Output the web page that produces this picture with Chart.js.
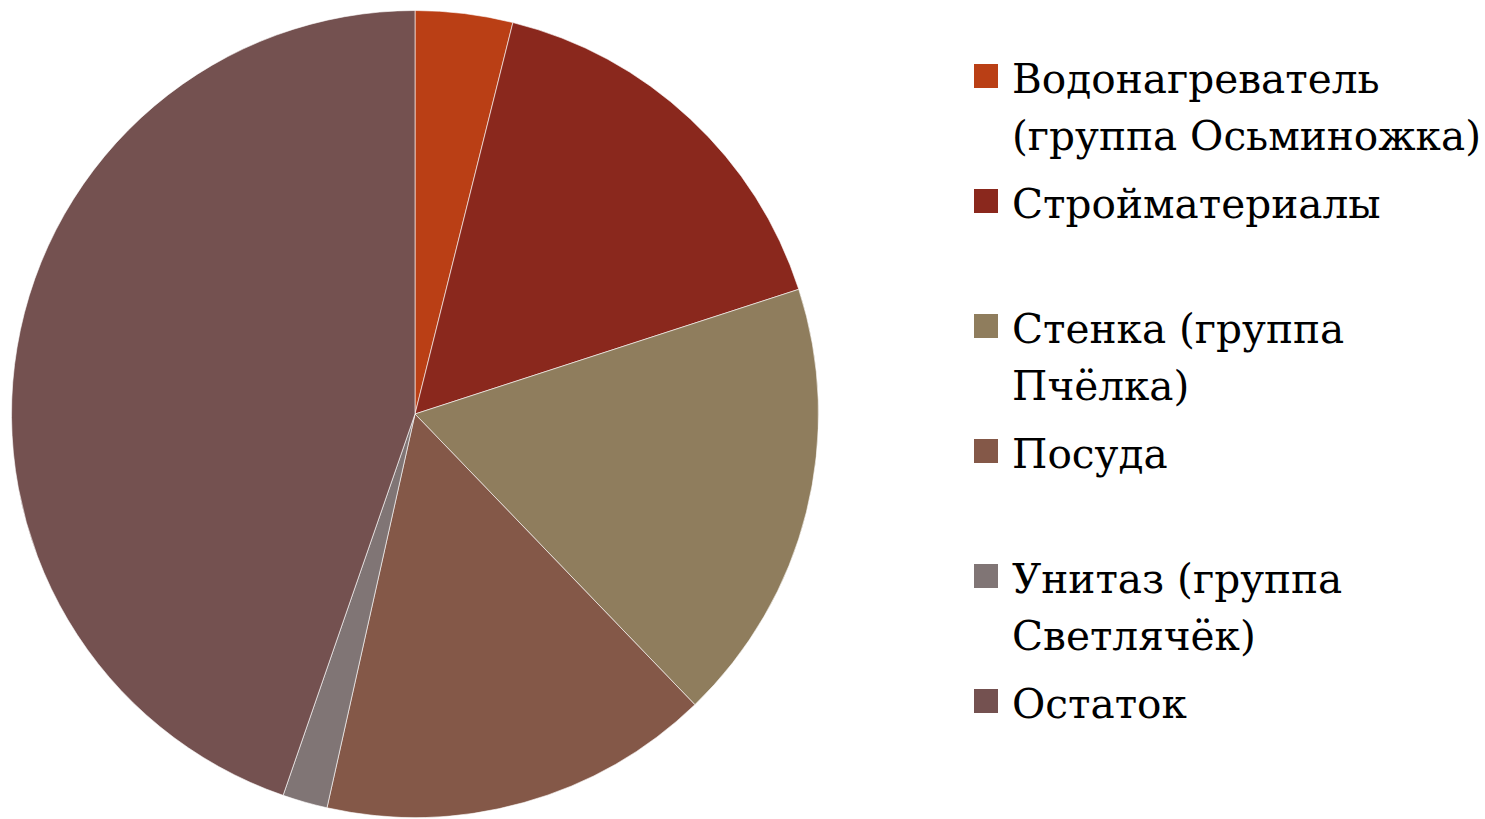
<!DOCTYPE html>
<html>
<head>
<meta charset="utf-8">
<script src="https://cdn.jsdelivr.net/npm/chart.js@4"></script>
<style>
  body { margin: 0; background: #fff; width: 1485px; height: 819px; overflow: hidden; position: relative; }
  #pieBox { position: absolute; left: 0; top: 10px; width: 830px; height: 808px; }
  #legend { position: absolute; left: 0; top: 0; }
  .item { position: absolute; left: 974px; }
  .swatch { position: absolute; left: 0; top: 13px; width: 24px; height: 24px; }
  .label { position: absolute; left: 38px; top: 0; white-space: nowrap;
           font-family: 'DejaVu Serif', serif; font-size: 40.6px; line-height: 57px; color: #000; }
</style>
</head>
<body>
<div id="pieBox"><canvas id="pieChart"></canvas></div>
<div id="legend"></div>
<script>
// categories (line breaks as in the legend)
const categories = [
    ['Водонагреватель', '(группа Осьминожка)'],
    ['Стройматериалы'],
    ['Стенка (группа', 'Пчёлка)'],
    ['Посуда'],
    ['Унитаз (группа', 'Светлячёк)'],
    ['Остаток']
];
// share of each slice, percent
const shares = [3.9, 16.1, 17.8, 15.7, 1.8, 44.7];
const sliceColors = ['#BA3F15', '#8A281D', '#8F7D5D', '#845848', '#807575', '#745150'];

const ctx = document.getElementById('pieChart').getContext('2d');

const pieChart = new Chart(ctx, {
    type: 'pie',
    data: {
        labels: categories,
        datasets: [{
            data: shares,
            backgroundColor: sliceColors,
            borderColor: 'rgba(255,255,255,0.6)',
            borderWidth: 1
        }]
    },
    options: {
        responsive: true,
        maintainAspectRatio: false,
        animation: false,
        layout: { padding: 0 },
        plugins: {
            legend: { display: false },
            tooltip: { enabled: false }
        }
    }
});

// Build the legend from the chart's own labels
const legendBox = document.getElementById('legend');
const items = pieChart.options.plugins.legend.labels.generateLabels(pieChart);
items.forEach((item, i) => {
    const div = document.createElement('div');
    div.className = 'item';
    div.style.top = (51 + i * 125) + 'px';
    const sw = document.createElement('div');
    sw.className = 'swatch';
    sw.style.backgroundColor = item.fillStyle;
    const lbl = document.createElement('div');
    lbl.className = 'label';
    lbl.innerHTML = categories[i].join('<br>');
    div.appendChild(sw);
    div.appendChild(lbl);
    legendBox.appendChild(div);
});
</script>
</body>
</html>
